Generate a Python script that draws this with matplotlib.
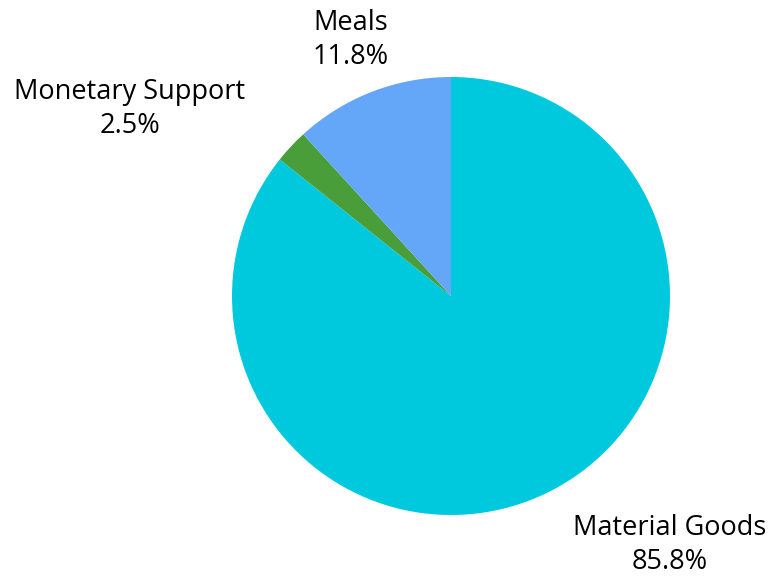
import matplotlib
matplotlib.use("Agg")
import matplotlib.pyplot as plt

labels = ["Material Goods", "Monetary Support", "Meals"]
values = [85.8, 2.5, 11.8]
colors = ["#00C9DD", "#4A9E3A", "#64A6F8"]
label_pos = [(1.0, -1.137), (-1.466, 0.854), (-0.457, 1.169)]

fig = plt.figure(figsize=(7.73, 5.77), dpi=100)
# pie centre at (451, 296) px, radius 219 px
cx, cy, r = 451, 296, 219
W, H = 773, 577
ax = fig.add_axes([(cx - r) / W, (H - cy - r) / H, 2 * r / W, 2 * r / H])

ax.pie(values, colors=colors, startangle=90, counterclock=False, radius=1,
       wedgeprops={"linewidth": 0})
ax.set_xlim(-1, 1)
ax.set_ylim(-1, 1)
ax.set_aspect("equal")

for lab, val, (x, y) in zip(labels, values, label_pos):
    ax.text(x, y, f"{lab}\n{val}%", ha="center", va="center", fontsize=19.5,
            family="Open Sans", weight="medium", linespacing=1.25,
            clip_on=False)

fig.savefig("out.png", dpi=100)
